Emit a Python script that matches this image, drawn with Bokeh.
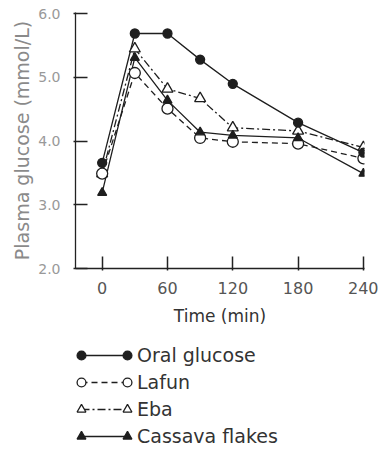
from bokeh.plotting import figure
from bokeh.layouts import column
from bokeh.models import FixedTicker, Legend, LegendItem
from bokeh.core.properties import value
from bokeh.embed import file_html
from bokeh.resources import INLINE

# ---- data ----
times = [0, 30, 60, 90, 120, 180, 240]
oral_glucose = [3.66, 5.69, 5.69, 5.28, 4.90, 4.29, 3.82]
lafun = [3.49, 5.07, 4.51, 4.05, 3.99, 3.96, 3.73]
eba = [3.49, 5.45, 4.82, 4.67, 4.21, 4.16, 3.90]
cassava_flakes = [3.19, 5.31, 4.64, 4.14, 4.09, 4.05, 3.49]
series_names = ["Oral glucose", "Lafun", "Eba", "Cassava flakes"]
x_ticks = [0, 60, 120, 180, 240]
y_ticks = [2, 3, 4, 5, 6]
y_tick_labels = ["2.0", "3.0", "4.0", "5.0", "6.0"]

FONT = "DejaVu Sans"
INK = "#1e1e1e"
AX = "#222222"

W, H_MAIN = 378, 328

p = figure(width=W, height=H_MAIN, output_backend="svg", toolbar_location=None,
           x_range=(-24.5, 241), y_range=(2.0, 6.02),
           min_border_left=75, min_border_right=14, min_border_top=12,
           min_border_bottom=60)
p.outline_line_color = None
p.xgrid.visible = False
p.ygrid.visible = False

for ax in (p.xaxis[0], p.yaxis[0]):
    ax.major_tick_in = 12
    ax.major_tick_out = 2
    ax.minor_tick_in = 0
    ax.minor_tick_out = 0
    ax.axis_line_color = AX
    ax.axis_line_width = 1.3
    ax.major_tick_line_color = AX
    ax.major_tick_line_width = 1.5
    ax.major_label_text_font = FONT
    ax.axis_label_text_font = FONT
    ax.axis_label_text_font_style = "normal"

p.xaxis.ticker = FixedTicker(ticks=x_ticks)
p.xaxis.major_label_text_font_size = "16px"
p.xaxis.major_label_text_color = "#555555"
p.xaxis.major_label_standoff = 11
p.xaxis.axis_label = "Time (min)"
p.xaxis.axis_label_text_font_size = "17px"
p.xaxis.axis_label_text_color = "#333333"
p.xaxis.axis_label_standoff = 9

p.yaxis.ticker = FixedTicker(ticks=y_ticks)
p.yaxis.major_label_overrides = {t: s for t, s in zip(y_ticks, y_tick_labels)}
p.yaxis.major_label_text_font_size = "14px"
p.yaxis.major_label_text_color = "#999999"
p.yaxis.major_label_standoff = 13
p.yaxis.axis_label = "Plasma glucose (mmol/L)"
p.yaxis.axis_label_text_font_size = "19px"
p.yaxis.axis_label_text_color = "#8a8a8a"
p.yaxis.axis_label_standoff = 2

series = [oral_glucose, lafun, eba, cassava_flakes]
dashes = ["solid", "6 4", "8 3 2 3", "solid"]
markers = ["circle", "circle", "triangle", "triangle"]
fills = [INK, "white", "white", INK]
sizes = [9, 11, 11, 9]

for ys, d in zip(series, dashes):
    p.line(times, ys, line_color=INK, line_width=1.3, line_dash=d)
for i in (2, 1, 3, 0):   # draw order: Eba, Lafun, Cassava flakes, Oral glucose
    p.scatter(times, series[i], marker=markers[i], size=sizes[i], fill_color=fills[i],
              line_color=INK, line_width=1.3)

# ---- legend panel (its ranges keep the series' own points out of view) ----
lg = figure(width=W, height=120, output_backend="svg", toolbar_location=None,
            x_range=(0, 1), y_range=(0, 1), min_border_left=75, min_border_right=14,
            min_border_top=0, min_border_bottom=0,
            x_axis_location=None, y_axis_location=None)
lg.outline_line_color = None
lg.xgrid.visible = False
lg.ygrid.visible = False

leg_lines, leg_marks = [], []
for ys, d in zip(series, dashes):
    leg_lines.append(lg.line(times, ys, line_color=INK, line_width=1.3, line_dash=d))
for ys, m, f in zip(series, markers, fills):
    leg_marks.append(lg.scatter(times, ys, marker=m, fill_color=f, line_color=INK,
                                line_width=1.3))

common = dict(glyph_height=22, label_height=22, spacing=5, padding=0, margin=0,
              background_fill_alpha=0, border_line_alpha=0,
              label_text_font=FONT, label_text_font_size="19px",
              label_text_color="#333333")

line_legend = Legend(items=[LegendItem(label=value(n), renderers=[r])
                            for n, r in zip(series_names, leg_lines)],
                     location=(6, 1), glyph_width=46, label_standoff=10, **common)
left_legend = Legend(items=[LegendItem(label=value(" "), renderers=[r]) for r in leg_marks],
                     location=(-5, 1), glyph_width=22, label_standoff=0, **common)
right_legend = Legend(items=[LegendItem(label=value(" "), renderers=[r]) for r in leg_marks],
                      location=(41, 1), glyph_width=22, label_standoff=0, **common)
lg.add_layout(line_legend)
lg.add_layout(left_legend)
lg.add_layout(right_legend)

layout = column(p, lg)
open("out.html", "w").write(file_html(layout, INLINE))
